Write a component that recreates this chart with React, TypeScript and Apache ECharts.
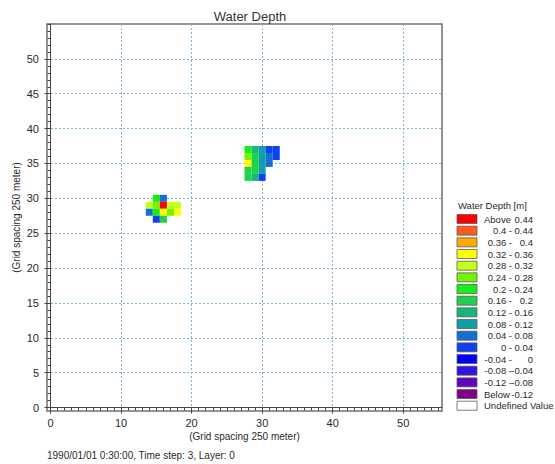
import React, { useEffect, useRef } from "react";
import * as echarts from "echarts";

// ---- data ----
// cells: [gridX, gridY, water depth (m)]
const cluster1: [number, number, number][] = [
  [15, 30, 0.21], [16, 30, 0.05],
  [14, 29, 0.29], [15, 29, 0.26], [16, 29, 0.46], [17, 29, 0.29], [18, 29, 0.29],
  [14, 28, 0.06], [15, 28, 0.22], [16, 28, 0.34], [17, 28, 0.26], [18, 28, 0.33],
  [15, 27, 0.02], [16, 27, 0.18],
];
const cluster2: [number, number, number][] = [
  [28, 37, 0.2], [29, 37, 0.15], [30, 37, 0.1], [31, 37, 0.02], [32, 37, 0.02],
  [28, 36, 0.25], [29, 36, 0.17], [30, 36, 0.11], [31, 36, 0.05], [32, 36, 0.02],
  [28, 35, 0.34], [29, 35, 0.19], [30, 35, 0.1], [31, 35, 0.05],
  [28, 34, 0.18], [29, 34, 0.16], [30, 34, 0.09],
  [28, 33, 0.17], [29, 33, 0.14], [30, 33, 0.03],
];

const xTickLabels = [0, 10, 20, 30, 40, 50];
const yTickLabels = [0, 5, 10, 15, 20, 25, 30, 35, 40, 45, 50];
const xMinorTicks = Array.from({ length: 56 }, (_, i) => i);
const yMinorTicks = Array.from({ length: 56 }, (_, i) => i);

// legend classes (lower bound of each class, top to bottom)
const classLower = [0.44, 0.4, 0.36, 0.32, 0.28, 0.24, 0.2, 0.16, 0.12, 0.08, 0.04, 0, -0.04, -0.08, -0.12, -Infinity];
const classColors = [
  "#FF0000", "#FF5A1C", "#FFA800", "#FFFF00", "#C4FF1C", "#74F400", "#16EE16", "#1ED24E",
  "#16B87A", "#0EA0AA", "#1270D2", "#1040F2", "#0000FF", "#3412E2", "#6002C0", "#820086",
];
const legendLeft = [
  "Above", "0.4 -", "0.36 -", "0.32 -", "0.28 -", "0.24 -", "0.2 -", "0.16 -", "0.12 -",
  "0.08 -", "0.04 -", "0 -", "-0.04 -", "-0.08 -", "-0.12 -", "Below",
];
const legendRight = [
  "0.44", "0.44", "0.4", "0.36", "0.32", "0.28", "0.24", "0.2", "0.16",
  "0.12", "0.08", "0.04", "0", "-0.04", "-0.08", "-0.12",
];

const FONT = "'Liberation Sans', Arial, sans-serif";
const TXT = "#2a2a2a";

function colorFor(v: number): string {
  for (let i = 0; i < classLower.length; i++) {
    if (v >= classLower[i]) return classColors[i];
  }
  return classColors[classColors.length - 1];
}

export default function App() {
  const ref = useRef<HTMLDivElement>(null);
  useEffect(() => {
    if (!ref.current) return;
    const chart = echarts.init(ref.current, undefined, { renderer: "svg" });

    const legendX = 457;
    const rowY0 = 219;
    const rowH = 11.67;
    const LF = 9.5;
    const legendGraphics: any[] = [
      {
        type: "text",
        x: 458,
        y: 205,
        style: { text: "Water Depth [m]", fontSize: LF, fontFamily: FONT, fill: TXT, verticalAlign: "middle" },
      },
    ];
    classColors.forEach((c, i) => {
      const cy = rowY0 + i * rowH;
      const isWord = legendLeft[i] === "Above" || legendLeft[i] === "Below";
      legendGraphics.push({
        type: "rect",
        shape: { x: legendX, y: cy - 4.5, width: 20, height: 9 },
        style: { fill: c, stroke: "#5a5a5a", lineWidth: 0.8 },
      });
      legendGraphics.push({
        type: "text",
        x: isWord ? 484 : 512,
        y: cy,
        style: {
          text: legendLeft[i], fontSize: LF, fontFamily: FONT, fill: TXT,
          align: isWord ? "left" : "right", verticalAlign: "middle",
        },
      });
      legendGraphics.push({
        type: "text",
        x: 533,
        y: cy,
        style: { text: legendRight[i], fontSize: LF, fontFamily: FONT, fill: TXT, align: "right", verticalAlign: "middle" },
      });
    });
    const uy = rowY0 + classColors.length * rowH;
    legendGraphics.push({
      type: "rect",
      shape: { x: legendX, y: uy - 4.5, width: 20, height: 9 },
      style: { fill: "#ffffff", stroke: "#5a5a5a", lineWidth: 0.8 },
    });
    legendGraphics.push({
      type: "text",
      x: 484,
      y: uy,
      style: { text: "Undefined Value", fontSize: LF, fontFamily: FONT, fill: TXT, verticalAlign: "middle" },
    });
    legendGraphics.push({
      type: "text",
      x: 47,
      y: 455,
      style: { text: "1990/01/01 0:30:00, Time step: 3, Layer: 0", fontSize: 10, fontFamily: FONT, fill: TXT, verticalAlign: "middle" },
    });

    const gridLine = { show: true, lineStyle: { color: "#7cb2d2", type: [2, 2] as any, width: 1 } };

    chart.setOption({
      animation: false,
      backgroundColor: "#ffffff",
      title: {
        text: "Water Depth",
        left: 245,
        top: 5,
        textAlign: "center",
        textStyle: { fontSize: 13, fontWeight: "normal", color: "#333", fontFamily: FONT },
      },
      grid: {
        left: 47,
        top: 24,
        width: 395,
        height: 387,
        show: true,
        borderColor: "#707070",
        borderWidth: 1.5,
        backgroundColor: "#ffffff",
        containLabel: false,
        outerBoundsMode: "none",
      },
      xAxis: [
        {
          type: "value",
          min: -0.5,
          max: 55.5,
          position: "bottom",
          name: "(Grid spacing 250 meter)",
          nameLocation: "middle",
          nameGap: 20,
          nameMoveOverlap: false,
          nameTextStyle: { fontSize: 10, color: TXT, fontFamily: FONT },
          axisLine: { show: true, lineStyle: { color: "#444", width: 1 } },
          axisTick: { show: true, length: 6, customValues: xTickLabels, lineStyle: { color: "#444" } },
          axisLabel: { customValues: xTickLabels, fontSize: 11, color: TXT, fontFamily: FONT, margin: 6 },
          splitLine: gridLine,
        },
        {
          type: "value",
          min: -0.5,
          max: 55.5,
          position: "bottom",
          axisLine: { show: false },
          axisTick: { show: true, length: 3, customValues: xMinorTicks, lineStyle: { color: "#444" } },
          axisLabel: { show: false },
          splitLine: { show: false },
        },
      ],
      yAxis: [
        {
          type: "value",
          min: -0.5,
          max: 55,
          position: "left",
          name: "(Grid spacing 250 meter)",
          nameLocation: "middle",
          nameGap: 26,
          nameMoveOverlap: false,
          nameRotate: 90,
          nameTextStyle: { fontSize: 10, color: TXT, fontFamily: FONT },
          axisLine: { show: true, lineStyle: { color: "#444", width: 1 } },
          axisTick: { show: true, length: 6, customValues: yTickLabels, lineStyle: { color: "#444" } },
          axisLabel: { customValues: yTickLabels, fontSize: 11, color: TXT, fontFamily: FONT, margin: 8 },
          splitLine: gridLine,
        },
        {
          type: "value",
          min: -0.5,
          max: 55,
          position: "left",
          axisLine: { show: false },
          axisTick: { show: true, length: 3, customValues: yMinorTicks, lineStyle: { color: "#444" } },
          axisLabel: { show: false },
          splitLine: { show: false },
        },
      ],
      graphic: legendGraphics,
      series: [
        {
          type: "custom",
          xAxisIndex: 0,
          yAxisIndex: 0,
          data: [...cluster1, ...cluster2],
          renderItem: (params: any, api: any) => {
            const x = api.value(0);
            const y = api.value(1);
            const p1 = api.coord([x - 0.5, y + 0.5]);
            const p2 = api.coord([x + 0.5, y - 0.5]);
            return {
              type: "rect",
              shape: { x: p1[0], y: p1[1], width: p2[0] - p1[0], height: p2[1] - p1[1] },
              style: { fill: colorFor(api.value(2)) },
            };
          },
        },
      ],
    });
    return () => chart.dispose();
  }, []);
  return <div ref={ref} style={{ position: "fixed", left: 0, top: 0, width: 555, height: 464 }} />;
}
